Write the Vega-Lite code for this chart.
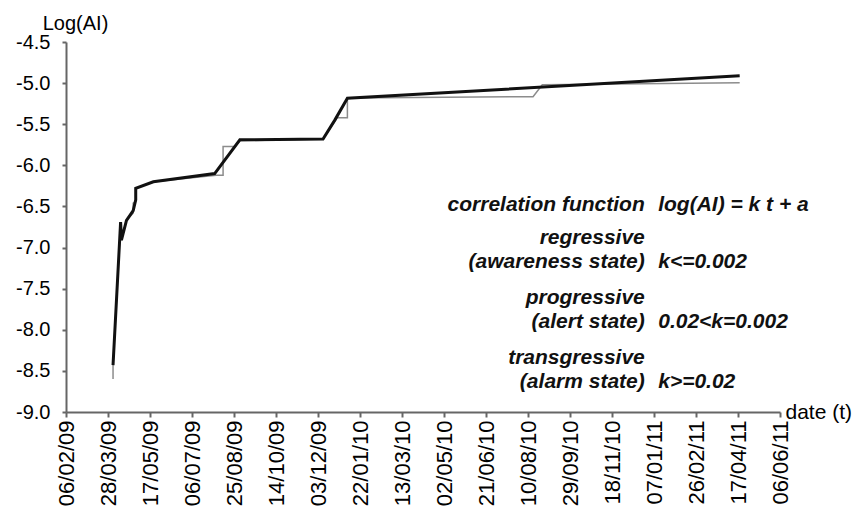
{
  "$schema": "https://vega.github.io/schema/vega-lite/v6.json",
  "width": 714,
  "height": 370,
  "autosize": "none",
  "padding": {"left": 66, "top": 42, "right": 84, "bottom": 97},
  "config": {"view": {"stroke": null}, "font": "Liberation Sans"},
  "datasets": {
    "lines": [
      {"series": "raw", "i": 1, "date": "2009-04-03", "value": -8.6},
      {"series": "raw", "i": 2, "date": "2009-04-03", "value": -8.43},
      {"series": "raw", "i": 3, "date": "2009-04-12", "value": -6.69},
      {"series": "raw", "i": 4, "date": "2009-04-13", "value": -6.91},
      {"series": "raw", "i": 5, "date": "2009-04-19", "value": -6.67},
      {"series": "raw", "i": 6, "date": "2009-04-27", "value": -6.58},
      {"series": "raw", "i": 7, "date": "2009-04-27", "value": -6.46},
      {"series": "raw", "i": 8, "date": "2009-04-30", "value": -6.44},
      {"series": "raw", "i": 9, "date": "2009-04-30", "value": -6.28},
      {"series": "raw", "i": 10, "date": "2009-05-21", "value": -6.2},
      {"series": "raw", "i": 11, "date": "2009-08-04", "value": -6.12},
      {"series": "raw", "i": 12, "date": "2009-08-12", "value": -6.12},
      {"series": "raw", "i": 13, "date": "2009-08-12", "value": -5.77},
      {"series": "raw", "i": 14, "date": "2009-08-26", "value": -5.77},
      {"series": "raw", "i": 15, "date": "2009-09-01", "value": -5.7},
      {"series": "raw", "i": 16, "date": "2009-12-09", "value": -5.68},
      {"series": "raw", "i": 17, "date": "2009-12-26", "value": -5.42},
      {"series": "raw", "i": 18, "date": "2010-01-07", "value": -5.42},
      {"series": "raw", "i": 19, "date": "2010-01-07", "value": -5.18},
      {"series": "raw", "i": 20, "date": "2010-08-16", "value": -5.165},
      {"series": "raw", "i": 21, "date": "2010-08-27", "value": -5.02},
      {"series": "raw", "i": 22, "date": "2011-04-19", "value": -4.995},
      {"series": "fit", "i": 1, "date": "2009-04-03", "value": -8.43},
      {"series": "fit", "i": 2, "date": "2009-04-12", "value": -6.69},
      {"series": "fit", "i": 3, "date": "2009-04-13", "value": -6.91},
      {"series": "fit", "i": 4, "date": "2009-04-19", "value": -6.67},
      {"series": "fit", "i": 5, "date": "2009-04-27", "value": -6.55},
      {"series": "fit", "i": 6, "date": "2009-04-30", "value": -6.42},
      {"series": "fit", "i": 7, "date": "2009-04-30", "value": -6.28},
      {"series": "fit", "i": 8, "date": "2009-05-21", "value": -6.2},
      {"series": "fit", "i": 9, "date": "2009-08-02", "value": -6.1},
      {"series": "fit", "i": 10, "date": "2009-09-01", "value": -5.69},
      {"series": "fit", "i": 11, "date": "2009-12-09", "value": -5.68},
      {"series": "fit", "i": 12, "date": "2009-12-23", "value": -5.45},
      {"series": "fit", "i": 13, "date": "2010-01-07", "value": -5.185},
      {"series": "fit", "i": 14, "date": "2011-04-19", "value": -4.91}
    ],
    "notes": [
      {"col": "L", "date": "2010-12-27", "value": -6.48, "text": "correlation function"},
      {"col": "L", "date": "2010-12-27", "value": -6.88, "text": "regressive"},
      {"col": "L", "date": "2010-12-27", "value": -7.18, "text": "(awareness state)"},
      {"col": "L", "date": "2010-12-27", "value": -7.61, "text": "progressive"},
      {"col": "L", "date": "2010-12-27", "value": -7.91, "text": "(alert state)"},
      {"col": "L", "date": "2010-12-27", "value": -8.34, "text": "transgressive"},
      {"col": "L", "date": "2010-12-27", "value": -8.64, "text": "(alarm state)"},
      {"col": "R", "date": "2011-01-12", "value": -6.48, "text": "log(AI) = k t + a"},
      {"col": "R", "date": "2011-01-12", "value": -7.18, "text": "k<=0.002"},
      {"col": "R", "date": "2011-01-12", "value": -7.91, "text": "0.02<k=0.002"},
      {"col": "R", "date": "2011-01-12", "value": -8.64, "text": "k>=0.02"}
    ]
  },
  "encoding": {
    "x": {
      "field": "date",
      "type": "temporal",
      "scale": {
        "type": "utc",
        "domain": [
          {"year": 2009, "month": 2, "date": 6, "utc": true},
          {"year": 2011, "month": 6, "date": 6, "utc": true}
        ]
      },
      "axis": {
        "values": [
          {"year": 2009, "month": 2, "date": 6, "utc": true},
          {"year": 2009, "month": 3, "date": 28, "utc": true},
          {"year": 2009, "month": 5, "date": 17, "utc": true},
          {"year": 2009, "month": 7, "date": 6, "utc": true},
          {"year": 2009, "month": 8, "date": 25, "utc": true},
          {"year": 2009, "month": 10, "date": 14, "utc": true},
          {"year": 2009, "month": 12, "date": 3, "utc": true},
          {"year": 2010, "month": 1, "date": 22, "utc": true},
          {"year": 2010, "month": 3, "date": 13, "utc": true},
          {"year": 2010, "month": 5, "date": 2, "utc": true},
          {"year": 2010, "month": 6, "date": 21, "utc": true},
          {"year": 2010, "month": 8, "date": 10, "utc": true},
          {"year": 2010, "month": 9, "date": 29, "utc": true},
          {"year": 2010, "month": 11, "date": 18, "utc": true},
          {"year": 2011, "month": 1, "date": 7, "utc": true},
          {"year": 2011, "month": 2, "date": 26, "utc": true},
          {"year": 2011, "month": 4, "date": 17, "utc": true},
          {"year": 2011, "month": 6, "date": 6, "utc": true}
        ],
        "labelExpr": "utcFormat(datum.value, '%d/%m/%y')",
        "labelAngle": -90,
        "labelFontSize": 22,
        "labelColor": "#000",
        "labelPadding": 3,
        "labelOverlap": false,
        "labelFlush": false,
        "grid": false,
        "domainColor": "#666",
        "domainWidth": 2,
        "tickColor": "#666",
        "tickWidth": 2,
        "tickSize": 5,
        "title": "date (t)",
        "titleFontSize": 21,
        "titleFontWeight": "normal",
        "titleColor": "#000",
        "titleAngle": 0,
        "titleX": 719,
        "titleY": 0,
        "titleAlign": "left",
        "titleBaseline": "middle"
      }
    },
    "y": {
      "field": "value",
      "type": "quantitative",
      "scale": {"domain": [-9, -4.5], "nice": false, "zero": false},
      "axis": {
        "values": [-9, -8.5, -8, -7.5, -7, -6.5, -6, -5.5, -5, -4.5],
        "format": ".1f",
        "labelExpr": "replace(datum.label, '\u2212', '-')",
        "labelFontSize": 20,
        "labelColor": "#000",
        "labelPadding": 12,
        "grid": false,
        "domainColor": "#666",
        "domainWidth": 2,
        "tickColor": "#666",
        "tickWidth": 2,
        "tickSize": 4,
        "title": "Log(AI)",
        "titleFontSize": 20,
        "titleFontWeight": "normal",
        "titleColor": "#000",
        "titleAngle": 0,
        "titleX": 9,
        "titleY": -19,
        "titleAlign": "center",
        "titleBaseline": "middle"
      }
    }
  },
  "layer": [
    {
      "data": {"name": "lines"},
      "transform": [{"filter": "datum.series === 'raw'"}],
      "mark": {"type": "line", "color": "#8c8c8c", "strokeWidth": 1.5},
      "encoding": {"order": {"field": "i", "type": "quantitative"}}
    },
    {
      "data": {"name": "lines"},
      "transform": [{"filter": "datum.series === 'fit'"}],
      "mark": {"type": "line", "color": "#111", "strokeWidth": 3},
      "encoding": {"order": {"field": "i", "type": "quantitative"}}
    },
    {
      "data": {"name": "notes"},
      "transform": [{"filter": "datum.col === 'L'"}],
      "mark": {"type": "text", "align": "right", "baseline": "middle", "fontSize": 21, "fontWeight": "bold", "fontStyle": "italic", "color": "#111"},
      "encoding": {"text": {"field": "text"}}
    },
    {
      "data": {"name": "notes"},
      "transform": [{"filter": "datum.col === 'R'"}],
      "mark": {"type": "text", "align": "left", "baseline": "middle", "fontSize": 21, "fontWeight": "bold", "fontStyle": "italic", "color": "#111"},
      "encoding": {"text": {"field": "text"}}
    }
  ]
}
